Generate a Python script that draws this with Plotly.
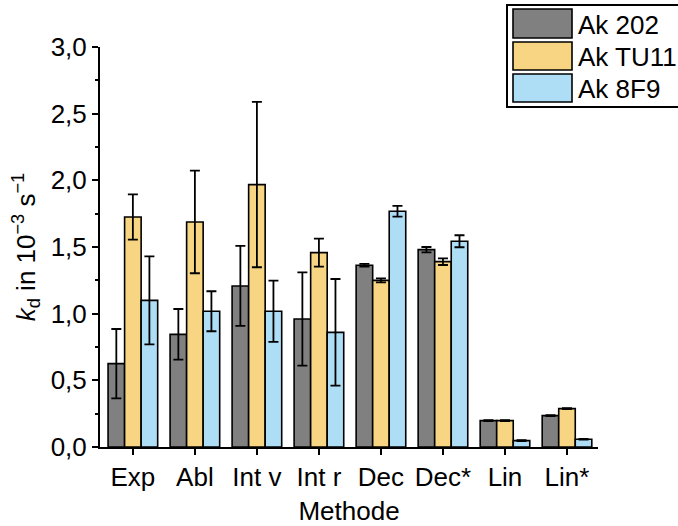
import plotly.graph_objects as go

# Methods and dissociation rate constants (10^-3 s^-1) per antibody
methods = ["Exp", "Abl", "Int v", "Int r", "Dec", "Dec*", "Lin", "Lin*"]

series_names = ["Ak 202", "Ak TU11", "Ak 8F9"]
series_colors = ["#808080", "#F8D583", "#AEDEF6"]

kd_ak202 = [0.625, 0.845, 1.208, 0.96, 1.363, 1.48, 0.198, 0.235]
err_ak202 = [0.26, 0.19, 0.30, 0.35, 0.010, 0.02, 0.003, 0.003]

kd_aktu11 = [1.725, 1.688, 1.968, 1.458, 1.25, 1.39, 0.198, 0.288]
err_aktu11 = [0.17, 0.385, 0.62, 0.105, 0.015, 0.025, 0.003, 0.003]

kd_ak8f9 = [1.10, 1.018, 1.018, 0.86, 1.768, 1.543, 0.048, 0.058]
err_ak8f9 = [0.33, 0.15, 0.23, 0.40, 0.04, 0.045, 0.003, 0.003]

values = [kd_ak202, kd_aktu11, kd_ak8f9]
errors = [err_ak202, err_aktu11, err_ak8f9]

FONT = "Liberation Sans"
FS = 26

fig = go.Figure()
for name, color, vals, errs in zip(series_names, series_colors, values, errors):
    fig.add_trace(go.Bar(
        x=methods,
        y=vals,
        name=name,
        marker=dict(color=color, line=dict(color="black", width=1.6)),
        error_y=dict(type="data", array=errs, visible=True,
                     color="black", thickness=1.8, width=5),
        showlegend=False,
    ))

# Legend box drawn with shapes so the swatches can be large
L, T = 100, 47
W, H = 498, 400


def px(x):
    return (x - L) / W


def py(y):
    return (T + H - y) / H


shapes = [dict(type="rect", xref="paper", yref="paper",
               x0=px(507), x1=px(690), y0=py(107), y1=py(5),
               line=dict(color="black", width=2), fillcolor="white",
               layer="above")]
annotations = []
rows = [(9, 38), (42, 70), (74, 102)]
for (y0, y1), name, color in zip(rows, series_names, series_colors):
    shapes.append(dict(type="rect", xref="paper", yref="paper",
                       x0=px(513), x1=px(572), y0=py(y1), y1=py(y0),
                       line=dict(color="black", width=1.6), fillcolor=color,
                       layer="above"))
    annotations.append(dict(xref="paper", yref="paper",
                            x=px(576), y=py((y0 + y1) / 2 + 1),
                            text=name, showarrow=False,
                            xanchor="left", yanchor="middle",
                            font=dict(family=FONT, size=FS, color="black")))

fig.update_layout(
    width=678, height=526,
    margin=dict(l=L, r=678 - L - W, t=T, b=526 - T - H),
    paper_bgcolor="white", plot_bgcolor="white",
    barmode="group", bargap=0.2, bargroupgap=0.0,
    separators=",.",
    font=dict(family=FONT, size=FS, color="black"),
    shapes=shapes,
    annotations=annotations,
    xaxis=dict(
        range=[-0.53, 7.5],
        automargin=False,
        showline=True, linecolor="black", linewidth=2,
        ticks="outside", ticklen=6, tickwidth=1.6, tickcolor="black",
        showgrid=False, zeroline=False,
        tickfont=dict(family=FONT, size=FS),
        title=dict(text="Methode", font=dict(family=FONT, size=FS), standoff=22),
    ),
    yaxis=dict(
        range=[0, 3.0],
        automargin=False,
        dtick=0.5, tickformat=".1f",
        showline=True, linecolor="black", linewidth=2,
        ticks="outside", ticklen=6, tickwidth=1.6, tickcolor="black",
        minor=dict(dtick=0.25, ticks="outside", ticklen=3,
                   tickwidth=1.6, tickcolor="black", showgrid=False),
        showgrid=False, zeroline=False,
        tickfont=dict(family=FONT, size=FS),
        title=dict(text="<i>k</i><sub>d</sub> in 10<sup>−3</sup> s<sup>−1</sup>",
                   font=dict(family=FONT, size=FS), standoff=8),
    ),
)

fig.write_html("out.html")
